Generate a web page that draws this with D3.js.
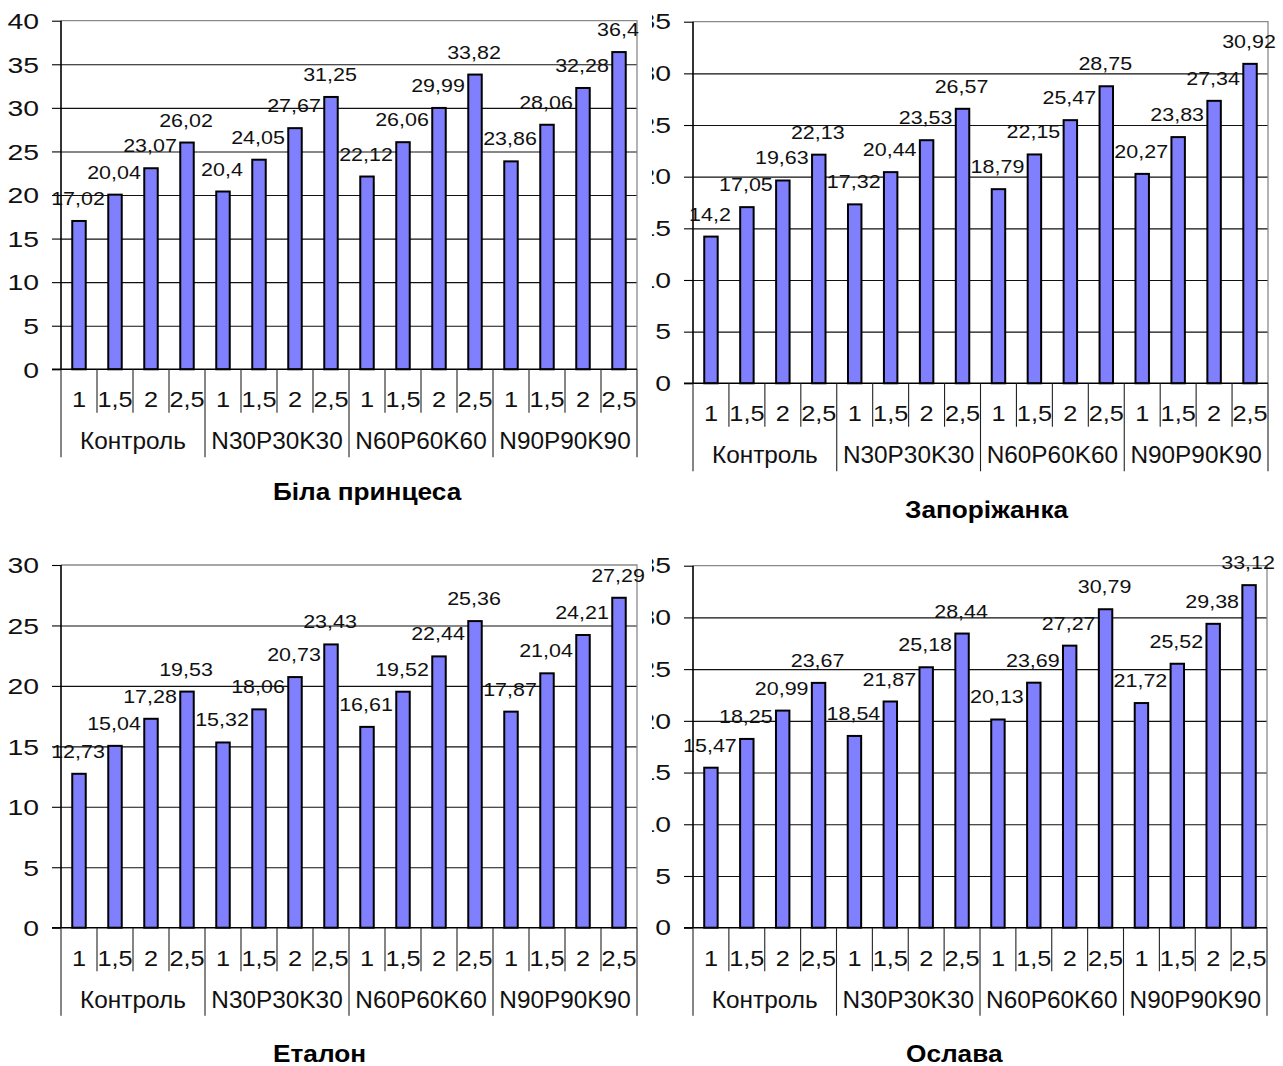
<!DOCTYPE html>
<html>
<head>
<meta charset="utf-8">
<script src="https://cdn.jsdelivr.net/npm/d3@7"></script>
<style>
  html, body { margin: 0; padding: 0; background: #fff; }
  svg { display: block; }
  text { font-family: "Liberation Sans", Arial, sans-serif; fill: #111; }
</style>
</head>
<body>
<svg id="chart" width="1283" height="1066"></svg>
<script>
// ---------------- DATA ----------------
const subLabels = ["1", "1,5", "2", "2,5"];
const groupLabels = ["Контроль", "N30P30K30", "N60P60K60", "N90P90K90"];
const titles = ["Біла принцеса", "Запоріжанка", "Еталон", "Ослава"];
const bilaValues    = [17.02, 20.04, 23.07, 26.02, 20.4, 24.05, 27.67, 31.25, 22.12, 26.06, 29.99, 33.82, 23.86, 28.06, 32.28, 36.4];
const zaporValues   = [14.2, 17.05, 19.63, 22.13, 17.32, 20.44, 23.53, 26.57, 18.79, 22.15, 25.47, 28.75, 20.27, 23.83, 27.34, 30.92];
const etalonValues  = [12.73, 15.04, 17.28, 19.53, 15.32, 18.06, 20.73, 23.43, 16.61, 19.52, 22.44, 25.36, 17.87, 21.04, 24.21, 27.29];
const oslavaValues  = [15.47, 18.25, 20.99, 23.67, 18.54, 21.87, 25.18, 28.44, 20.13, 23.69, 27.27, 30.79, 21.72, 25.52, 29.38, 33.12];
const yMaxValues = [40, 35, 30, 35];
const yStep = 5;

// ---------------- LAYOUT ----------------
const panels = [
  { title: titles[0], values: bilaValues,   max: yMaxValues[0], left: 61,  right: 637,  top: 20.7,  zero: 369.3, titleX: 273, titleY: 500,  clip: false },
  { title: titles[1], values: zaporValues,  max: yMaxValues[1], left: 693, right: 1268, top: 21.7,  zero: 383.3, titleX: 905, titleY: 518,  clip: true  },
  { title: titles[2], values: etalonValues, max: yMaxValues[2], left: 61,  right: 637,  top: 565,   zero: 927.7, titleX: 273, titleY: 1062, clip: false },
  { title: titles[3], values: oslavaValues, max: yMaxValues[3], left: 693, right: 1267, top: 565.7, zero: 927.7, titleX: 906, titleY: 1062, clip: true  }
];

const svg = d3.select("#chart");
svg.append("defs").append("clipPath").attr("id", "rightClip")
  .append("rect").attr("x", 652).attr("y", 0).attr("width", 700).attr("height", 1066);

const categories = [];
groupLabels.forEach((g, gi) => subLabels.forEach((s, si) => categories.push({ g, gi, s, idx: gi * 4 + si })));
const fmt = v => String(v).replace(".", ",");

panels.forEach(p => {
  const root = svg.append("g");
  const idx = d3.range(categories.length);
  const y = d3.scaleLinear().domain([0, p.max]).range([p.zero, p.top]);
  const cat = d3.scaleBand().domain(idx).range([p.left, p.right]).paddingInner(0).paddingOuter(0);
  const xb = d3.scaleBand().domain(idx).range([p.left, p.right]).paddingInner(0.57).paddingOuter(0.285);
  const ticks = d3.range(0, p.max + 0.001, yStep);
  const width = p.right - p.left;

  // gridlines
  const grid = root.append("g").attr("transform", `translate(${p.left},0)`)
    .call(d3.axisLeft(y).tickValues(ticks.filter(t => t > 0 && t < p.max)).tickSize(-width).tickFormat(""));
  grid.select(".domain").remove();
  grid.selectAll("line").attr("stroke", "#111").attr("stroke-width", 1.1);

  // border top + right (gray)
  root.append("path")
    .attr("d", `M${p.left},${y(p.max)}H${p.right}V${p.zero}`)
    .attr("fill", "none").attr("stroke", "#8a8a8a").attr("stroke-width", 1.3);

  // bars
  root.append("g").selectAll("rect").data(p.values).join("rect")
    .attr("x", (d, i) => xb(i) + 1)
    .attr("width", xb.bandwidth() - 2)
    .attr("y", d => y(d))
    .attr("height", d => p.zero - y(d))
    .attr("fill", "#8080ff")
    .attr("stroke", "#000")
    .attr("stroke-width", 2);

  // y axis with tick labels
  const yAxisG = root.append("g").attr("transform", `translate(${p.left},0)`)
    .call(d3.axisLeft(y).tickValues(ticks).tickSize(9).tickFormat(d => String(d)));
  yAxisG.attr("font-family", null).attr("font-size", null);
  yAxisG.select(".domain").attr("stroke", "#000").attr("stroke-width", 1.6)
    .attr("d", `M0,${p.top}V${p.zero}`);
  yAxisG.selectAll(".tick line").attr("stroke", "#000").attr("stroke-width", 1.1);
  yAxisG.selectAll(".tick text")
    .attr("x", 0).attr("dy", "0.36em")
    .attr("transform", "translate(-22,0) scale(1.32,1)")
    .attr("text-anchor", "end")
    .attr("fill", null)
    .style("font-size", "21.5px");
  if (p.clip) {
    // move tick labels under the clip so they are cut at the panel's left edge
    const clipG = root.append("g").attr("clip-path", "url(#rightClip)");
    yAxisG.selectAll(".tick").each(function (d) {
      const txt = d3.select(this).select("text");
      clipG.append("g").attr("transform", `translate(${p.left},${y(d)})`)
        .node().appendChild(txt.node());
    });
  }

  // baseline at zero
  root.append("line")
    .attr("x1", p.left - 9).attr("x2", p.right)
    .attr("y1", p.zero).attr("y2", p.zero)
    .attr("stroke", "#000").attr("stroke-width", 1.6);

  // category separators
  const sepG = root.append("g");
  d3.range(categories.length + 1).forEach(i => {
    const x = i < categories.length ? cat(i) : p.right;
    const isGroup = i % 4 === 0;
    sepG.append("line")
      .attr("x1", x).attr("x2", x)
      .attr("y1", p.zero).attr("y2", p.zero + (isGroup ? 88 : 43.5))
      .attr("stroke", "#222").attr("stroke-width", 1.1);
  });

  // category labels
  root.append("g").selectAll("text").data(categories).join("text")
    .attr("transform", d => `translate(${cat(d.idx) + cat.bandwidth() / 2},${p.zero + 38}) scale(1.15,1)`)
    .attr("text-anchor", "middle")
    .style("font-size", "22px")
    .text(d => d.s);

  // group labels
  root.append("g").selectAll("text").data(groupLabels).join("text")
    .attr("transform", (d, gi) => `translate(${(cat(gi * 4) + (gi < 3 ? cat(gi * 4 + 4) : p.right)) / 2},${p.zero + 80}) scale(1.06,1)`)
    .attr("text-anchor", "middle")
    .style("font-size", "23px")
    .text(d => d);

  // data labels
  root.append("g").selectAll("text").data(p.values).join("text")
    .attr("transform", (d, i) => `translate(${xb(i) + xb.bandwidth() / 2 - 1},${y(d) - 16}) scale(1.13,1)`)
    .attr("text-anchor", "middle")
    .style("font-size", "19px")
    .text(d => fmt(d));

  // title
  root.append("text")
    .attr("transform", `translate(${p.titleX},${p.titleY}) scale(1.14,1)`)
    .attr("text-anchor", "start")
    .style("font-size", "23px")
    .style("font-weight", "bold")
    .style("fill", "#000")
    .text(p.title);
});
</script>
</body>
</html>
